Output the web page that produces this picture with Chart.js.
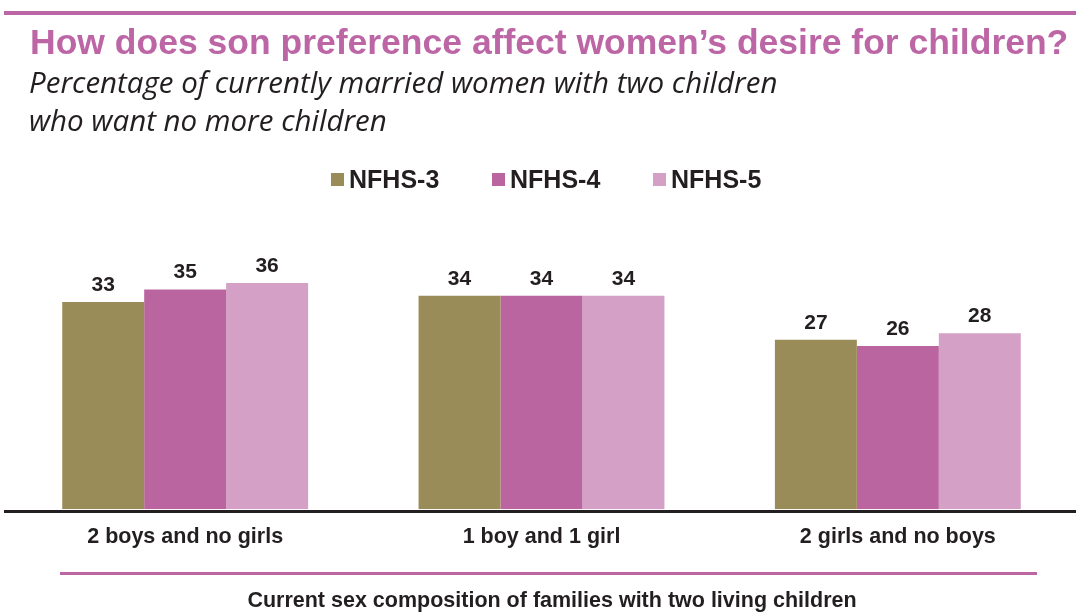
<!DOCTYPE html>
<html>
<head>
<meta charset="utf-8">
<script src="https://cdn.jsdelivr.net/npm/chart.js@4"></script>
<style>
  html, body { margin: 0; padding: 0; background: #fff; }
  #wrap { width: 1076px; height: 612px; position: relative; }
</style>
</head>
<body>
<div id="wrap"><canvas id="sonChart"></canvas></div>
<script>
var categories = ["2 boys and no girls", "1 boy and 1 girl", "2 girls and no boys"];
var seriesNames = ["NFHS-3", "NFHS-4", "NFHS-5"];
var nfhs3 = [33, 34, 27];
var nfhs4 = [35, 34, 26];
var nfhs5 = [36, 34, 28];
var seriesColors = ["#9a8c58", "#ba64a0", "#d4a0c6"];

var PINK = "#bd66a6";
var INK = "#231f20";

// title, subtitle, rules, legend and value labels
var decorations = {
    id: "decorations",
    afterDraw: function (chart) {
        var ctx = chart.ctx;
        ctx.save();

        // top rule
        ctx.fillStyle = PINK;
        ctx.fillRect(4, 11, 1072, 4);

        ctx.fillStyle = PINK;
        ctx.font = "bold 35.5px 'Liberation Sans', Arial, sans-serif";
        ctx.textAlign = "left";
        ctx.textBaseline = "middle";
        ctx.fillText("How does son preference affect women\u2019s desire for children?", 30, 44);

        ctx.fillStyle = INK;
        ctx.font = "italic 29.5px 'Open Sans', sans-serif";
        ctx.fillText("Percentage of currently married women with two children", 29, 85);
        ctx.fillText("who want no more children", 29, 123);

        // legend
        var legendX = [331, 492, 653];
        ctx.font = "bold 25px 'Liberation Sans', Arial, sans-serif";
        for (var i = 0; i < seriesNames.length; i++) {
            ctx.fillStyle = seriesColors[i];
            ctx.fillRect(legendX[i], 173, 13, 13);
            ctx.fillStyle = INK;
            ctx.fillText(seriesNames[i], legendX[i] + 18, 181);
        }

        // baseline
        ctx.fillStyle = INK;
        ctx.fillRect(4, 510, 1072, 3);

        // bottom rule and axis title
        ctx.fillStyle = PINK;
        ctx.fillRect(60, 572, 977, 3);
        ctx.fillStyle = INK;
        ctx.textAlign = "center";
        ctx.font = "bold 21.5px 'Liberation Sans', Arial, sans-serif";
        ctx.fillText("Current sex composition of families with two living children", 552, 601);

        // value labels above bars
        ctx.font = "bold 21px 'Liberation Sans', Arial, sans-serif";
        ctx.textBaseline = "alphabetic";
        chart.data.datasets.forEach(function (ds, di) {
            chart.getDatasetMeta(di).data.forEach(function (bar, j) {
                ctx.fillText(ds.data[j], bar.x, bar.y - 11);
            });
        });
        ctx.restore();
    }
};

new Chart(document.getElementById("sonChart"), {
    type: "bar",
    data: {
        labels: categories,
        datasets: [
            { label: seriesNames[0], data: nfhs3, backgroundColor: seriesColors[0] },
            { label: seriesNames[1], data: nfhs4, backgroundColor: seriesColors[1] },
            { label: seriesNames[2], data: nfhs5, backgroundColor: seriesColors[2] }
        ]
    },
    options: {
        responsive: true,
        maintainAspectRatio: false,
        animation: false,
        layout: { padding: { top: 258, left: 7, right: 0, bottom: 47 } },
        datasets: { bar: { categoryPercentage: 0.69, barPercentage: 1.0 } },
        scales: {
            y: { display: false, min: 0, max: 40 },
            x: {
                grid: { display: false, drawTicks: false },
                border: { display: false },
                ticks: {
                    padding: 15,
                    color: INK,
                    font: { size: 21.5, weight: "bold", family: "'Liberation Sans', Arial, sans-serif" }
                }
            }
        },
        plugins: {
            legend: { display: false },
            tooltip: { enabled: false }
        }
    },
    plugins: [decorations]
});
</script>
</body>
</html>
